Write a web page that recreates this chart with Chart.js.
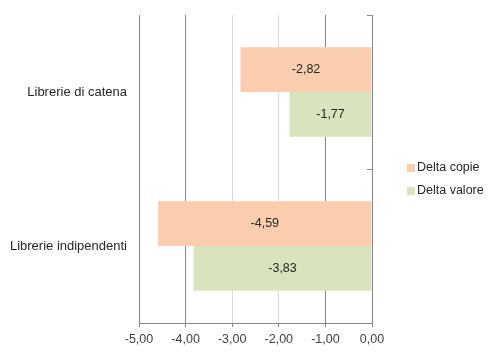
<!DOCTYPE html>
<html>
<head>
<meta charset="utf-8">
<script src="https://cdn.jsdelivr.net/npm/chart.js@4/dist/chart.umd.min.js"></script>
<style>
  html, body { margin: 0; padding: 0; background: #fff; }
  #wrap { width: 500px; height: 358px; }
</style>
</head>
<body>
<div id="wrap"><canvas id="chart" width="500" height="358"></canvas></div>
<script>
  // dati
  const categorie = ['Librerie di catena', 'Librerie indipendenti'];
  const deltaCopie = [-2.82, -4.59];
  const deltaValore = [-1.77, -3.83];
  const tickValori = [-5, -4, -3, -2, -1, 0];

  const FONT = "'Liberation Sans', 'DejaVu Sans', sans-serif";
  const fmt = v => v.toFixed(2).replace('.', ',');

  // etichette dentro le barre
  const etichettePlugin = {
    id: 'etichette',
    afterDatasetsDraw(chart) {
      const ctx = chart.ctx;
      ctx.save();
      ctx.font = '12.5px ' + FONT;
      ctx.fillStyle = '#262626';
      ctx.textAlign = 'center';
      ctx.textBaseline = 'middle';
      chart.data.datasets.forEach((ds, i) => {
        chart.getDatasetMeta(i).data.forEach((bar, j) => {
          const x = (bar.x + bar.base) / 2;
          ctx.fillText(fmt(ds.data[j]), x, bar.y);
        });
      });
      ctx.restore();
    }
  };

  // tacche dell'asse categorie sulla linea dello zero + legenda a destra
  const extraPlugin = {
    id: 'extra',
    afterDraw(chart) {
      const ctx = chart.ctx;
      const xs = chart.scales.x, ys = chart.scales.y;
      const x0 = xs.getPixelForValue(0);
      ctx.save();
      ctx.strokeStyle = '#868686';
      ctx.lineWidth = 1;
      for (let i = 0; i <= categorie.length; i++) {
        const y = Math.round(ys.getPixelForValue(i - 0.5)) + 0.5;
        ctx.beginPath();
        ctx.moveTo(x0 - 5, y);
        ctx.lineTo(x0, y);
        ctx.stroke();
      }
      // legenda
      const area = chart.chartArea;
      const cy = (area.top + area.bottom) / 2;
      const lx = x0 + 35;
      ctx.font = '12.5px ' + FONT;
      ctx.textBaseline = 'middle';
      ctx.textAlign = 'left';
      chart.data.datasets.forEach((ds, i) => {
        const y = cy - 1 + i * 23;
        ctx.fillStyle = ds.backgroundColor;
        ctx.fillRect(lx, y - 4, 8, 8);
        ctx.fillStyle = '#262626';
        ctx.fillText(ds.label, lx + 10, y);
      });
      ctx.restore();
    }
  };

  new Chart(document.getElementById('chart').getContext('2d'), {
    type: 'bar',
    data: {
      labels: categorie,
      datasets: [
        { label: 'Delta copie', data: deltaCopie, backgroundColor: '#F9CDAE' },
        { label: 'Delta valore', data: deltaValore, backgroundColor: '#D9E4BF' }
      ]
    },
    options: {
      indexAxis: 'y',
      responsive: false,
      animation: false,
      layout: { padding: { top: 15, right: 128, bottom: 7, left: 0 } },
      datasets: { bar: { categoryPercentage: 0.58, barPercentage: 1 } },
      plugins: {
        legend: { display: false },
        tooltip: { enabled: false }
      },
      scales: {
        x: {
          min: -5,
          max: 0,
          afterBuildTicks: s => { s.ticks = tickValori.map(v => ({ value: v })); },
          afterFit: s => { s.height = 28; },
          grid: {
            color: c => (c.tick && (c.tick.value === -3 || c.tick.value === -2)) ? '#D9D9D9' : '#868686',
            tickColor: '#868686',
            tickLength: 4,
            lineWidth: 1
          },
          border: { display: true, color: '#868686' },
          ticks: {
            color: '#404040',
            font: { size: 12.5, family: FONT },
            padding: 5,
            callback: v => fmt(v)
          }
        },
        y: {
          grid: { display: false },
          border: { display: false },
          afterFit: s => { s.width = 139; s.paddingTop = 0; s.paddingBottom = 0; },
          ticks: {
            color: '#262626',
            font: { size: 13, family: FONT },
            padding: 4
          }
        }
      }
    },
    plugins: [etichettePlugin, extraPlugin]
  });
</script>
</body>
</html>
